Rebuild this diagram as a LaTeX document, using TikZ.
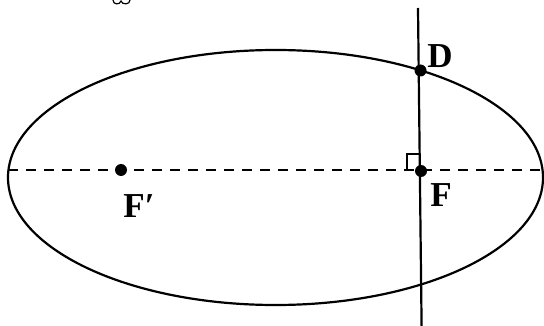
\documentclass[tikz,border=0pt]{standalone}
\usepackage{fontspec}
\setmainfont{Liberation Serif}
\begin{document}
\begin{tikzpicture}[x=1pt,y=-1pt,
  curve/.style={line width=2.2pt,black},
  axisline/.style={line width=2.2pt,black,dash pattern=on 10pt off 8pt},
  dot/.style={circle,fill=black,inner sep=0pt,minimum size=12pt},
  lbl/.style={font=\bfseries\fontsize{35}{40}\selectfont,inner sep=0pt,anchor=center}]
\useasboundingbox (0,0) rectangle (544,326);
% ellipse
\draw[curve] (275.5,177.5) ellipse [x radius=267.5pt, y radius=127.5pt];
% major axis (dashed)
\coordinate (axL) at (8,170);
\coordinate (axR) at (544,170);
\draw[axisline] (axL) -- (axR);
% points
\node[dot] (Fp) at (121,170) {};
\node[dot] (F) at (421,171) {};
\node[dot] (D) at (420.5,70.5) {};
% vertical line through D and F
\coordinate (vtop) at (418,8);
\coordinate (vbot) at (421.6,326);
\draw[curve] (vtop) -- (vbot);
% right-angle mark
\draw[line width=1.2pt] (407,170) -- (407,154) -- (420,154);
% labels
\node[lbl] (Dl) at (440,56) {D};
\node[lbl] (Fl) at (441,195) {F};
\node[lbl] (Fpl) at (139,206) {F′};
% small mark cut by the top edge
\draw[line width=1.2pt] (113,0) .. controls (113,5) and (120,5) .. (121,1)
  .. controls (122,5) and (130,5) .. (130,0);
\end{tikzpicture}
\end{document}
